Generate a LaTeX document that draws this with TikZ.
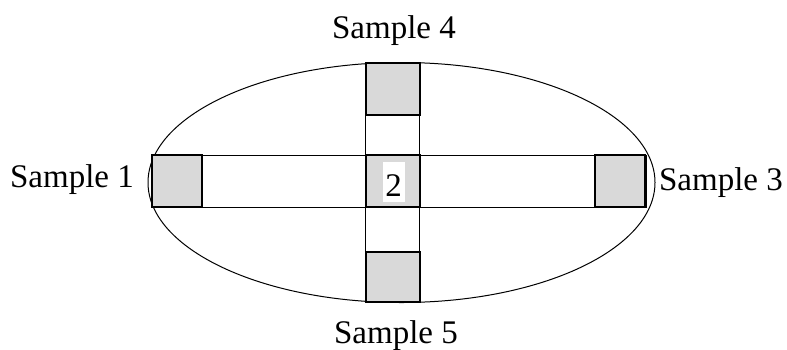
\documentclass[tikz,border=0pt]{standalone}
\usepackage{fontspec}
\setmainfont{Liberation Serif}
\usetikzlibrary{shapes.geometric}
\definecolor{sqgray}{RGB}{217,217,217}
\begin{document}
\begin{tikzpicture}[x=1pt,y=-1pt,
  thinline/.style={draw=black,line width=1pt},
  graysq/.style={draw=black,line width=2pt,fill=sqgray},
  lbl/.style={font=\fontsize{33}{37}\selectfont,inner sep=0pt,anchor=base}]
\useasboundingbox (0,0) rectangle (787,349);
% ellipse
\node[ellipse,thinline,minimum width=507pt,minimum height=240pt,inner sep=0pt] (ell) at (401.5,182.5) {};
% horizontal strip
\node[thinline,fill=white,minimum width=495pt,minimum height=52pt,inner sep=0pt] (hstrip) at (399,181) {};
% vertical strip
\node[thinline,fill=white,minimum width=54pt,minimum height=239pt,inner sep=0pt] (vstrip) at (392.5,182.5) {};
% gray squares
\node[graysq,minimum width=50pt,minimum height=52pt,inner sep=0pt] (s1) at (177,181) {};
\node[graysq,minimum width=50pt,minimum height=52pt,inner sep=0pt] (s3) at (620,181) {};
\node[graysq,minimum width=54pt,minimum height=52pt,inner sep=0pt] (s4) at (392.5,89) {};
\node[graysq,minimum width=54pt,minimum height=50pt,inner sep=0pt] (s5) at (392.5,277) {};
\node[graysq,minimum width=54pt,minimum height=52pt,inner sep=0pt] (s2) at (393,181) {};
\node[fill=white,minimum width=22pt,minimum height=40pt,inner sep=0pt] (s2box) at (393.5,182) {};
\node[lbl] (two) at (393.5,196) {2};
% labels
\node[lbl] (l1) at (72,187) {Sample 1};
\node[lbl] (l3) at (721,190) {Sample 3};
\node[lbl] (l4) at (394,38) {Sample 4};
\node[lbl] (l5) at (396,343) {Sample 5};
\end{tikzpicture}
\end{document}
